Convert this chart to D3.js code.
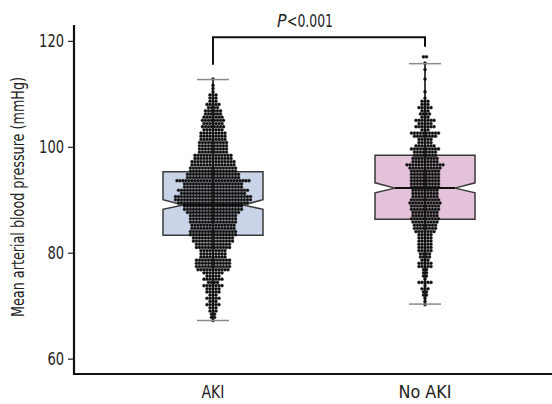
<!DOCTYPE html>
<html><head><meta charset="utf-8">
<script src="https://cdn.jsdelivr.net/npm/d3@7"></script>
<style>
body{margin:0;background:#fff;}
svg text{font-family:"DejaVu Sans",sans-serif;font-stretch:condensed;}
</style></head>
<body><svg id="c" width="552" height="404"></svg>
<script>
const groups = ["AKI", "No AKI"];
const yTicks = [60, 80, 100, 120];
const q1 = [83.3, 86.3];
const median = [89.0, 92.2];
const q3 = [95.3, 98.4];
const notchLo = [88.2, 91.3];
const notchHi = [90.0, 93.2];
const whiskerLo = [67.2, 70.3];
const whiskerHi = [112.7, 115.7];
const boxFill = ["#c9d4e9", "#e3c2da"];
const pSymbol = "P", pValue = "<0.001";
const bracketY = 120.7, bracketLegs = [115.5, 118.9];

// dot-plot rows: MAP value of each row and number of patients in it
const akiRows = [112.8,112.2,111.6,111.0,110.4,109.8,109.2,108.6,108.0,107.4,106.8,106.2,105.6,105.0,104.4,103.8,103.2,102.6,102.0,101.4,100.8,100.2,99.6,99.0,98.4,97.8,97.2,96.6,96.0,95.4,94.8,94.2,93.6,93.0,92.4,91.8,91.2,90.6,90.0,89.4,88.8,88.2,87.6,87.0,86.4,85.8,85.2,84.6,84.0,83.4,82.8,82.2,81.6,81.0,80.4,79.8,79.2,78.6,78.0,77.4,76.8,76.2,75.6,75.0,74.4,73.8,73.2,72.6,72.0,71.4,70.8,70.2,69.6,69.0,68.4,67.8,67.2];
const akiCounts = [1,0,1,1,1,3,3,3,5,4,6,6,7,8,7,8,7,9,9,9,10,10,10,10,13,13,15,15,16,16,18,18,25,20,20,24,22,26,26,24,20,20,18,16,16,16,15,15,16,16,14,14,12,12,9,9,9,12,12,12,11,7,5,7,4,7,5,5,3,5,3,5,3,3,2,2,1];
const noAkiRows = [117.0,115.8,115.2,114.6,114.0,113.4,112.8,112.2,111.6,111.0,110.4,109.8,109.2,108.6,108.0,107.4,106.8,106.2,105.6,105.0,104.4,103.8,103.2,102.6,102.0,101.4,100.8,100.2,99.6,99.0,98.4,97.8,97.2,96.6,96.0,95.4,94.8,94.2,93.6,93.0,92.4,91.8,91.2,90.6,90.0,89.4,88.8,88.2,87.6,87.0,86.4,85.8,85.2,84.6,84.0,83.4,82.8,82.2,81.6,81.0,80.4,79.8,79.2,78.6,78.0,77.4,76.8,76.2,75.6,75.0,74.4,73.8,73.2,72.6,72.0,71.4,70.8,70.2];
const noAkiCounts = [2,1,0,1,0,0,1,0,0,0,1,0,1,3,3,5,3,4,3,7,5,7,3,10,8,5,5,7,10,8,8,9,9,13,11,10,10,10,10,10,10,9,9,9,10,11,10,10,9,9,10,9,8,8,7,5,5,5,5,5,5,4,4,3,5,5,2,2,2,1,5,1,3,2,2,1,1,1];
const rows = [akiRows, noAkiRows];
const counts = [akiCounts, noAkiCounts];

const svg = d3.select("#c");
const x = d3.scalePoint().domain(groups).range([107, 531]).padding(0.5);
const y = d3.scaleLinear().domain([57.1, 123]).range([374, 25]);

// axes
const yAxis = d3.axisLeft(y).tickValues(yTicks).tickSize(6).tickPadding(4);
const gy = svg.append("g").attr("transform", "translate(74,0)").call(yAxis);
gy.select(".domain").remove();
gy.selectAll(".tick line").attr("stroke", "#222").attr("stroke-width", 1.2);
gy.selectAll(".tick text").attr("font-size", 17.5).attr("fill", "#222")
  .attr("font-family", "'DejaVu Sans',sans-serif").style("font-stretch", "condensed")
  .attr("textLength", d => String(d).length * 8.3).attr("lengthAdjust", "spacingAndGlyphs");
svg.append("line").attr("x1", 74).attr("x2", 74).attr("y1", y(123)).attr("y2", y(57.1) + 1)
  .attr("stroke", "#111").attr("stroke-width", 2.2);
svg.append("line").attr("x1", 73).attr("x2", 552).attr("y1", y(57.1)).attr("y2", y(57.1))
  .attr("stroke", "#111").attr("stroke-width", 2.2);

const xLabW = [23, 53];
groups.forEach((g, i) => {
  svg.append("text").attr("x", x(g)).attr("y", 398).attr("text-anchor", "middle")
    .attr("font-size", 17.5).attr("fill", "#222")
    .attr("textLength", xLabW[i]).attr("lengthAdjust", "spacingAndGlyphs").text(g);
});
svg.append("text").attr("transform", "translate(24,197) rotate(-90)")
  .attr("text-anchor", "middle").attr("font-size", 18).attr("fill", "#222")
  .attr("textLength", 240).attr("lengthAdjust", "spacingAndGlyphs")
  .text("Mean arterial blood pressure (mmHg)");

// boxes
const halfW = 50, notchIn = 30;
groups.forEach((g, i) => {
  const cx = x(g);
  const p = d3.path();
  p.moveTo(cx - halfW, y(q3[i]));
  p.lineTo(cx + halfW, y(q3[i]));
  p.lineTo(cx + halfW, y(notchHi[i]));
  p.lineTo(cx + notchIn, y(median[i]));
  p.lineTo(cx + halfW, y(notchLo[i]));
  p.lineTo(cx + halfW, y(q1[i]));
  p.lineTo(cx - halfW, y(q1[i]));
  p.lineTo(cx - halfW, y(notchLo[i]));
  p.lineTo(cx - notchIn, y(median[i]));
  p.lineTo(cx - halfW, y(notchHi[i]));
  p.closePath();
  svg.append("path").attr("d", p.toString()).attr("fill", boxFill[i])
    .attr("stroke", "#3a3a3a").attr("stroke-width", 1.5);
});

// dots
const sp = 3;
groups.forEach((g, i) => {
  const cx = x(g);
  const pts = [];
  rows[i].forEach((v, k) => {
    const n = counts[i][k];
    for (let j = 0; j < n; j++) pts.push({ x: cx + (j - (n - 1) / 2) * sp, y: y(v) });
  });
  svg.append("g").selectAll("circle").data(pts).join("circle")
    .attr("cx", d => d.x).attr("cy", d => d.y).attr("r", 1.6)
    .attr("fill", "#0a0a0a").attr("stroke", "#555").attr("stroke-width", 0.4);
});

// whiskers, medians
groups.forEach((g, i) => {
  const cx = x(g);
  svg.append("line").attr("x1", cx).attr("x2", cx).attr("y1", y(whiskerLo[i])).attr("y2", y(whiskerHi[i]))
    .attr("stroke", "#111").attr("stroke-width", 1.6);
  [whiskerLo[i], whiskerHi[i]].forEach(v => {
    svg.append("line").attr("x1", cx - 16).attr("x2", cx + 16).attr("y1", y(v)).attr("y2", y(v))
      .attr("stroke", "#8a8a8a").attr("stroke-width", 1.5);
  });
  svg.append("line").attr("x1", cx - notchIn).attr("x2", cx + notchIn)
    .attr("y1", y(median[i])).attr("y2", y(median[i]))
    .attr("stroke", "#111").attr("stroke-width", 2);
});

// significance bracket
const bx0 = x(groups[0]), bx1 = x(groups[1]);
svg.append("path")
  .attr("d", `M${bx0},${y(bracketLegs[0])}V${y(bracketY)}H${bx1}V${y(bracketLegs[1])}`)
  .attr("fill", "none").attr("stroke", "#111").attr("stroke-width", 2);
const pSym = svg.append("text").attr("x", 277).attr("y", 27).attr("font-size", 17.5)
  .attr("fill", "#222").attr("font-style", "italic").text(pSymbol);
const pW = pSym.node().getComputedTextLength();
svg.append("text").attr("x", 277 + pW + 0.5).attr("y", 27).attr("font-size", 17.5)
  .attr("fill", "#222").attr("textLength", 56 - pW - 0.5).attr("lengthAdjust", "spacingAndGlyphs")
  .text(pValue);
</script></body></html>
